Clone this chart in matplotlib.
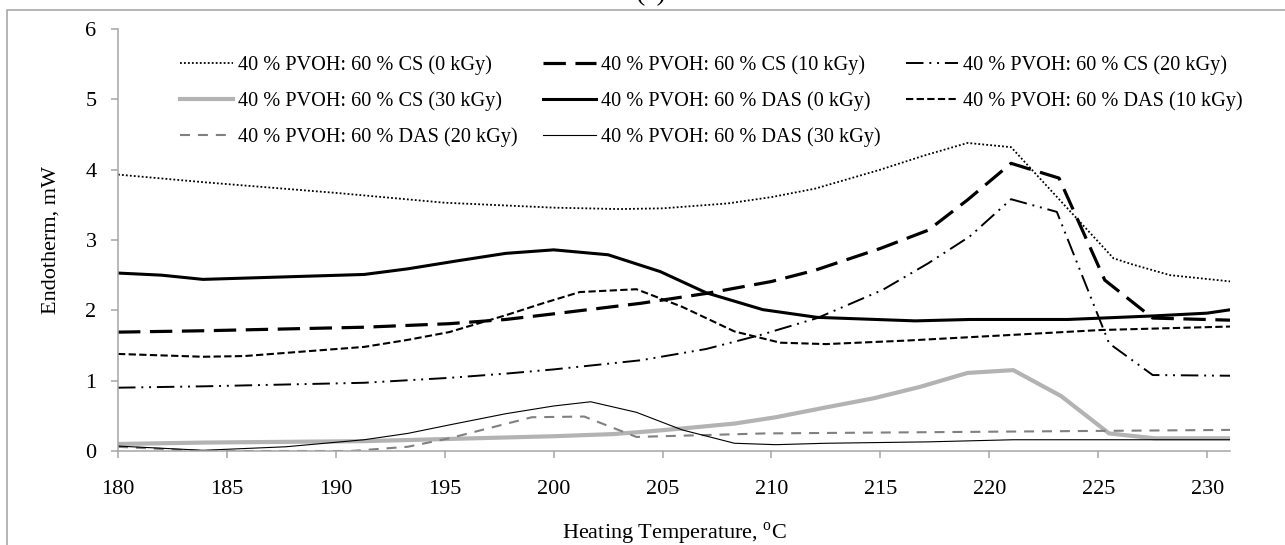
import matplotlib
matplotlib.use("Agg")
import matplotlib.pyplot as plt
from matplotlib.patches import Rectangle

plt.rcParams['font.family'] = 'Liberation Serif'
plt.rcParams['mathtext.fontset'] = 'custom'
plt.rcParams['mathtext.rm'] = 'Liberation Serif'

# DSC endotherms, 40 % PVOH blends with CS / DAS at different doses

temp_cs0 = [180, 184, 190, 195, 200, 203, 205, 208, 210, 212, 215, 217, 219, 221, 225.7, 226.6, 228.3, 231.1]
endo_cs0 = [3.93, 3.82, 3.67, 3.53, 3.46, 3.44, 3.45, 3.52, 3.61, 3.73, 4.00, 4.20, 4.38, 4.32, 2.74, 2.65, 2.50, 2.41]

temp_cs10 = [180, 184, 191.3, 195.2, 197.8, 200, 204, 207, 210, 212, 215, 217.2, 219, 221, 223.2, 225.3, 227.5, 231.1]
endo_cs10 = [1.69, 1.71, 1.76, 1.81, 1.87, 1.95, 2.10, 2.24, 2.41, 2.57, 2.88, 3.14, 3.57, 4.09, 3.88, 2.43, 1.89, 1.86]

temp_cs20 = [180, 184, 191.3, 195.2, 197.8, 200, 204, 207, 209.5, 212.1, 215.1, 217.2, 219.1, 221, 223.1, 225.5, 227.5, 231.1]
endo_cs20 = [0.90, 0.92, 0.97, 1.04, 1.10, 1.16, 1.29, 1.45, 1.65, 1.89, 2.29, 2.67, 3.05, 3.58, 3.40, 1.53, 1.08, 1.07]

temp_cs30 = [180, 184, 191.3, 200, 202.7, 204, 205.9, 208.3, 210.2, 212.5, 214.7, 216.8, 219, 221.1, 223.3, 225.5, 227.6, 231.1]
endo_cs30 = [0.10, 0.12, 0.14, 0.21, 0.24, 0.27, 0.32, 0.39, 0.48, 0.62, 0.75, 0.91, 1.11, 1.15, 0.78, 0.25, 0.18, 0.18]

temp_das0 = [180, 182, 183.9, 191.3, 193.3, 195.5, 197.8, 200, 202.5, 204.9, 207, 209.6, 212.1, 216.6, 219.1, 223.6, 227.5, 230, 231.1]
endo_das0 = [2.53, 2.50, 2.44, 2.51, 2.59, 2.70, 2.81, 2.86, 2.79, 2.55, 2.25, 2.01, 1.90, 1.85, 1.87, 1.87, 1.92, 1.96, 2.01]

temp_das10 = [180, 183.9, 185.8, 191.3, 193.3, 195.2, 197.8, 199.5, 201.2, 203.8, 205.9, 208.3, 210.4, 212.5, 216.2, 221, 225.1, 231.1]
endo_das10 = [1.38, 1.34, 1.35, 1.48, 1.58, 1.69, 1.93, 2.10, 2.26, 2.30, 2.05, 1.70, 1.54, 1.52, 1.57, 1.65, 1.72, 1.77]

temp_das20 = [180, 183.9, 190.7, 193.3, 195.2, 199.0, 201.4, 203.8, 209.7, 231.1]
endo_das20 = [0.06, 0.00, 0.00, 0.06, 0.18, 0.48, 0.49, 0.20, 0.25, 0.30]

temp_das30 = [180, 183.9, 187.7, 191.3, 193.3, 195.2, 197.8, 200, 201.7, 203.8, 205.9, 208.3, 210.2, 212.5, 217.2, 221.1, 231.1]
endo_das30 = [0.07, 0.01, 0.06, 0.16, 0.25, 0.37, 0.53, 0.64, 0.70, 0.55, 0.30, 0.11, 0.09, 0.11, 0.13, 0.16, 0.16]

labels = [
    "40 % PVOH: 60 % CS (0 kGy)",
    "40 % PVOH: 60 % CS (10 kGy)",
    "40 % PVOH: 60 % CS (20 kGy)",
    "40 % PVOH: 60 % CS (30 kGy)",
    "40 % PVOH: 60 % DAS (0 kGy)",
    "40 % PVOH: 60 % DAS (10 kGy)",
    "40 % PVOH: 60 % DAS (20 kGy)",
    "40 % PVOH: 60 % DAS (30 kGy)",
]

fig = plt.figure(figsize=(12.85, 5.45), dpi=100)
ax = fig.add_axes([118 / 1285, 94 / 545, 1112 / 1285, 422 / 545])

l_cs0, = ax.plot(temp_cs0, endo_cs0, color="black", lw=1.3, linestyle=(0, (1, 1.2)), label=labels[0])
l_cs10, = ax.plot(temp_cs10, endo_cs10, color="black", lw=2.3, linestyle=(0, (7, 3)), label=labels[1])
l_cs20, = ax.plot(temp_cs20, endo_cs20, color="black", lw=1.4, linestyle=(0, (9, 3, 1, 3, 1, 3)), label=labels[2])
l_cs30, = ax.plot(temp_cs30, endo_cs30, color="#b3b3b3", lw=3.0, label=labels[3])
l_das0, = ax.plot(temp_das0, endo_das0, color="black", lw=2.2, label=labels[4])
l_das10, = ax.plot(temp_das10, endo_das10, color="black", lw=1.5, linestyle=(0, (3.5, 1.6)), label=labels[5])
l_das20, = ax.plot(temp_das20, endo_das20, color="#808080", lw=1.5, linestyle=(0, (4.8, 3.8)), label=labels[6])
l_das30, = ax.plot(temp_das30, endo_das30, color="black", lw=0.8, label=labels[7])

ax.set_xlim(180, 231.05)
ax.set_ylim(0, 6)
ax.set_xticks(range(180, 231, 5))
ax.set_yticks(range(0, 7))

for side in ["top", "right"]:
    ax.spines[side].set_visible(False)
for side in ["left", "bottom"]:
    ax.spines[side].set_color("#a6a6a6")
    ax.spines[side].set_linewidth(1.1)

ax.tick_params(axis="both", colors="#a6a6a6", labelcolor="black", labelsize=16, length=5, width=1.1)
ax.tick_params(axis="y", pad=10.5)
ax.tick_params(axis="x", pad=16)

ax.set_ylabel("Endotherm, mW", fontsize=16)
ax.yaxis.set_label_coords(-0.052, 0.5)
ax.set_xlabel("Heating Temperature, $^{\\rm o}$C", fontsize=16)
ax.xaxis.set_label_coords(0.5, -0.166)

# legend is filled column by column, so reorder to read row by row
order = [l_cs0, l_cs30, l_das20, l_cs10, l_das0, l_das30, l_cs20, l_das10]
ax.legend(handles=order, labels=[h.get_label() for h in order], ncol=3,
          loc="upper left", bbox_to_anchor=(0.0558, 0.938), frameon=False,
          fontsize=14.6, handlelength=2.6, handletextpad=0.25, columnspacing=1.25,
          labelspacing=0.8, borderpad=0, borderaxespad=0)

# outer chart border and panel letter
fig.patches.append(Rectangle((7 / 1285, -0.1), 1.2, (545 - 10) / 545 + 0.1,
                             transform=fig.transFigure, fill=False,
                             edgecolor="#a0a0a0", lw=1.1))
fig.text(651 / 1285, 1.0, "(a)", ha="center", va="baseline", fontsize=20)

fig.savefig("out.png", dpi=100)
plt.close(fig)
